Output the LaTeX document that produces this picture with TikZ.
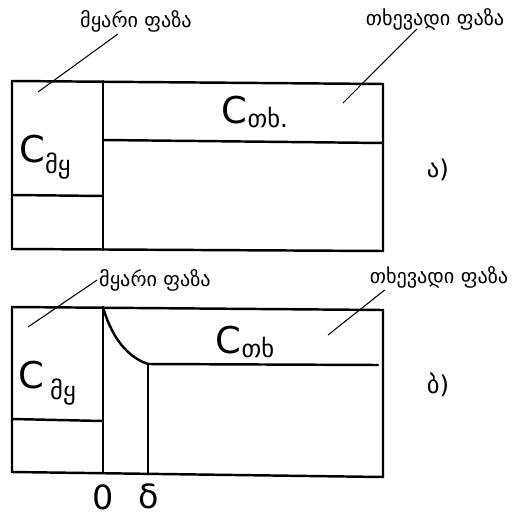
\documentclass[tikz,border=0pt]{standalone}
\usepackage{fontspec}
\setmainfont{DejaVu Sans}
\usetikzlibrary{positioning,calc}

\begin{document}
\begin{tikzpicture}[x=0.02cm,y=-0.02cm,
  wall/.style={line width=1.4pt,line cap=round},
  lead/.style={line width=0.6pt},
  phase/.style={font=\fontsize{11.5}{13}\selectfont,inner sep=1pt},
  conc/.style={font=\fontsize{21}{24}\selectfont,inner sep=1pt},
  tag/.style={font=\fontsize{14}{16}\selectfont,inner sep=1pt}]
  \useasboundingbox (0,0) rectangle (516,520);
  % case a)
  \draw[wall] (12,81) -- (383,84) -- (383,251) -- (12,249) -- cycle;
  \draw[wall] (103,81) -- (103,250);
  \draw[wall] (12,195) -- (103,196);
  \draw[wall] (103,140) -- (383,143);
  \node[conc] (csa) at (45,157) {C\raisebox{-0.55ex}{\fontsize{14}{16}\selectfont მყ}};
  \node[conc] (cla) at (255,112) {C\raisebox{-0.2ex}{\fontsize{14}{16}\selectfont თხ.}};
  \node[tag] (ta) at (438,170) {ა)};
  \node[phase] (msa) at (136,21) {მყარი ფაზა};
  \node[phase] (lsa) at (435,19) {თხევადი ფაზა};
  \coordinate (psa) at (38,92);
  \coordinate (pla) at (343,103);
  \draw[lead] ($(msa.south)+(-18,0)$) -- (psa);
  \draw[lead] ($(lsa.south)+(-18,-3)$) -- (pla);
  % case b)
  \draw[wall] (12,307) -- (383,310) -- (383,477) -- (12,472) -- cycle;
  \draw[wall] (103,307) -- (103,473);
  \draw[wall] (12,419) -- (103,421);
  \draw[wall] (103,307) .. controls (110,332) and (124,356) .. (148,364);
  \draw[wall] (148,364) -- (148,474);
  \draw[wall] (148,364) -- (378,365);
  \node[conc] (csb) at (47,383) {C\,\raisebox{-0.55ex}{\fontsize{14}{16}\selectfont მყ}};
  \node[conc] (clb) at (245,342) {C\raisebox{-0.2ex}{\fontsize{14}{16}\selectfont თხ}};
  \node[tag] (tb) at (438,385) {ბ)};
  \node[phase] (msb) at (155,280) {მყარი ფაზა};
  \node[phase] (lsb) at (439,277) {თხევადი ფაზა};
  \coordinate (psb) at (28,327);
  \coordinate (plb) at (328,335);
  \draw[lead] (msb.west) -- (psb);
  \draw[lead] ($(lsb.south west)+(17,0)$) -- (plb);
  \node[conc,font=\fontsize{19}{22}\selectfont] (zero) at (103,497) {0};
  \node[conc,font=\fontsize{19}{22}\selectfont] (delta) at (149,496) {δ};
\end{tikzpicture}
\end{document}
